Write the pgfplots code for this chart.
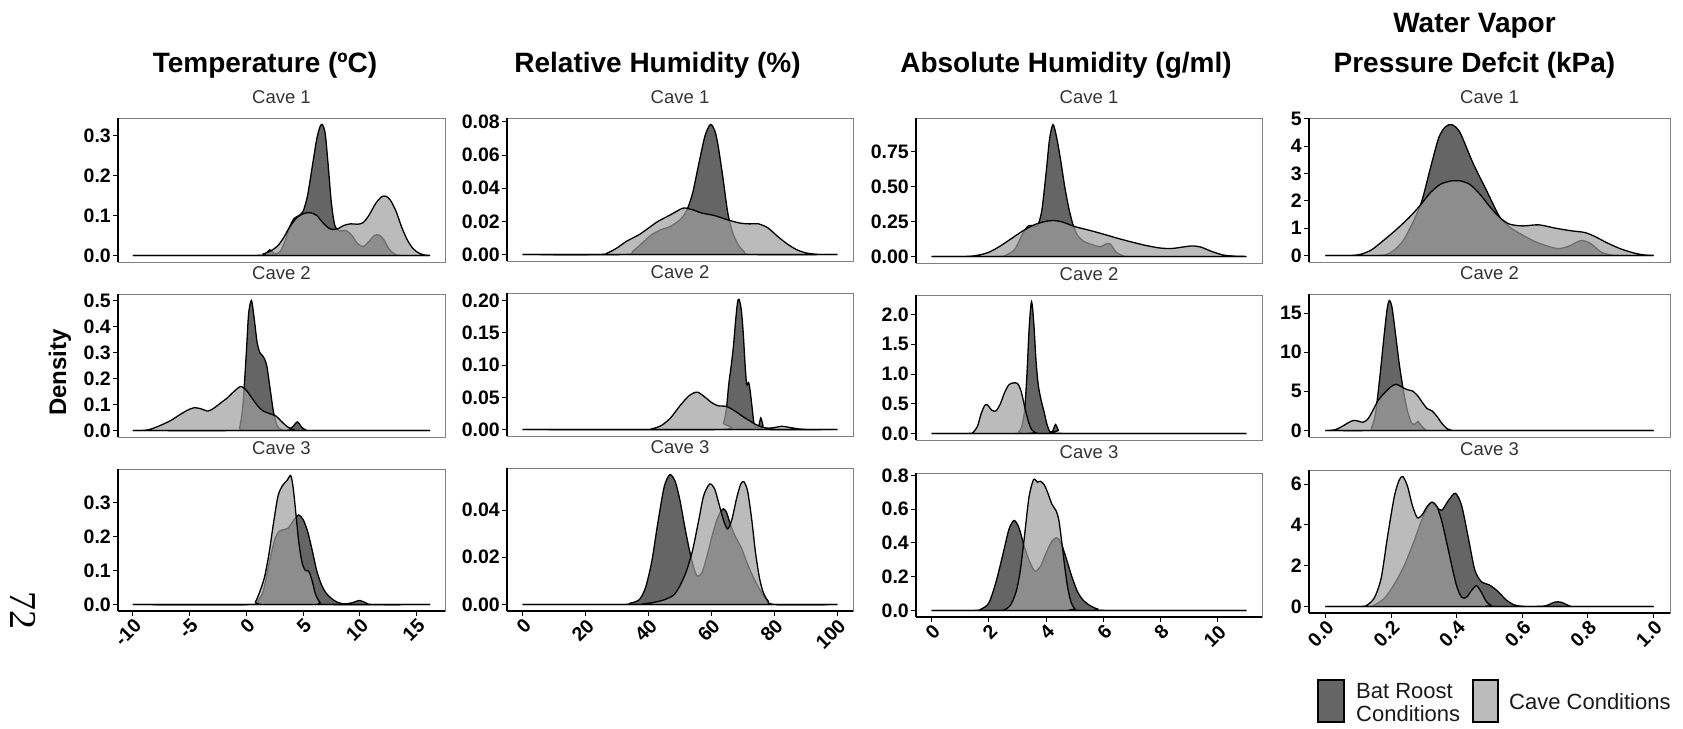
\documentclass[border=0pt]{standalone}
\usepackage{fontspec}
\setmainfont{Liberation Sans}
\usepackage{pgfplots}
\pgfplotsset{compat=1.18}

\definecolor{roostfill}{HTML}{242424}
\definecolor{cavefill}{HTML}{9E9E9E}
\newcommand\tickfont{\fontsize{19.5}{21}\selectfont\bfseries}
\newcommand\stripfont{\fontsize{18.5}{20}\selectfont}
\newcommand\titlefont{\fontsize{28}{32}\selectfont\bfseries}
\newcommand\legfont{\fontsize{22}{24}\selectfont}

\pgfplotsset{
  dens/.style={
    scale only axis,
    anchor=north west,
    scaled y ticks=false,
    scaled x ticks=false,
    axis line style={draw=black!50, line width=0.8pt},
    tick align=outside,
    major tick length=5pt,
    tick style={black, line width=1pt},
    ytick pos=left,
    xtick pos=bottom,
    yticklabel style={font=\tickfont, text=black, inner sep=1pt, xshift=-1pt},
    xticklabel style={font=\tickfont, text=black, rotate=45, anchor=north east, inner sep=1pt},
    title style={font=\stripfont, text=black!80, anchor=base, yshift=8pt},
    after end axis/.code={\draw[black, line width=1.3pt] (rel axis cs:0,0) -- (rel axis cs:0,1);},
  },
  bottomrow/.style={after end axis/.append code={\draw[black, line width=1.3pt] (rel axis cs:0,0) -- (rel axis cs:1,0);}},
  roost/.style={draw=black, line width=1.3pt, fill=roostfill, fill opacity=0.7, smooth, tension=0.45},
  cave/.style={draw=black, line width=1.3pt, fill=cavefill, fill opacity=0.7, smooth, tension=0.45},
  tcol/.style={xmin=-11.31, xmax=17.51, width=327pt},
  rcol/.style={xmin=-5, xmax=105, width=346pt},
  acol/.style={xmin=-0.55, xmax=11.55, width=346pt},
  vcol/.style={xmin=-0.05, xmax=1.05, width=361pt},
}

\begin{document}
\begin{tikzpicture}
\path[use as bounding box] (0,0) rectangle (1683pt,728pt);

%% ---------------- Temperature ----------------
\begin{axis}[dens, tcol, at={(118pt,610pt)}, height=144pt, xtick=\empty,
  ymin=-0.0164, ymax=0.3434, ytick={0,0.1,0.2,0.3}, yticklabels={0.0,0.1,0.2,0.3}, title={Cave 1}]
\addplot[roost] coordinates {(-10,0) (1.2,0) (1.7,0.004) (2.06,0.014) (2.5,0.004) (3.0,0.01) (3.4,0.035) (3.8,0.07) (4.2,0.092) (4.6,0.099) (5.0,0.11) (5.4,0.15) (5.8,0.22) (6.2,0.29) (6.5,0.322) (6.7,0.327) (6.95,0.305) (7.2,0.23) (7.5,0.13) (7.8,0.075) (8.2,0.062) (8.8,0.062) (9.3,0.05) (9.8,0.03) (10.3,0.022) (10.8,0.035) (11.3,0.05) (11.7,0.051) (12.1,0.04) (12.6,0.015) (13.1,0.003) (13.6,0) (16.2,0)} \closedcycle;
\addplot[cave] coordinates {(-10,0) (0.8,0) (1.5,0.004) (2.2,0.012) (2.8,0.025) (3.3,0.045) (3.8,0.07) (4.4,0.093) (5.0,0.104) (5.6,0.107) (6.2,0.1) (6.8,0.08) (7.4,0.066) (8.0,0.066) (8.6,0.075) (9.2,0.079) (9.8,0.078) (10.3,0.082) (10.8,0.1) (11.4,0.13) (11.9,0.146) (12.3,0.148) (12.7,0.138) (13.2,0.11) (13.7,0.07) (14.2,0.038) (14.7,0.017) (15.2,0.006) (15.7,0.001) (16.2,0)} \closedcycle;
\end{axis}

\begin{axis}[dens, tcol, at={(118pt,434pt)}, height=143pt, xtick=\empty,
  ymin=-0.0251, ymax=0.527, ytick={0,0.1,0.2,0.3,0.4,0.5}, yticklabels={0.0,0.1,0.2,0.3,0.4,0.5}, title={Cave 2}]
\addplot[roost] coordinates {(-10,0) (-1.0,0) (-0.6,0.01) (-0.3,0.1) (0.0,0.3) (0.2,0.45) (0.45,0.502) (0.7,0.43) (0.95,0.34) (1.2,0.3) (1.5,0.285) (1.8,0.25) (2.1,0.16) (2.4,0.07) (2.7,0.02) (3.0,0.005) (3.6,0.001) (4.1,0.015) (4.5,0.033) (4.9,0.012) (5.3,0.001) (5.8,0) (16.2,0)} \closedcycle;
\addplot[cave] coordinates {(-10,0) (-9.2,0) (-8.6,0.003) (-8.0,0.012) (-7.3,0.025) (-6.6,0.04) (-5.9,0.06) (-5.2,0.078) (-4.6,0.088) (-4.0,0.084) (-3.4,0.075) (-2.9,0.085) (-2.3,0.105) (-1.7,0.125) (-1.1,0.15) (-0.5,0.17) (0.0,0.155) (0.5,0.125) (1.0,0.095) (1.5,0.075) (2.0,0.066) (2.6,0.056) (3.1,0.035) (3.6,0.015) (4.1,0.004) (4.6,0) (16.2,0)} \closedcycle;
\end{axis}

\begin{axis}[dens, tcol, bottomrow, at={(118pt,259pt)}, height=142pt,
  ymin=-0.019, ymax=0.398, ytick={0,0.1,0.2,0.3}, yticklabels={0.0,0.1,0.2,0.3},
  xtick={-10,-5,0,5,10,15}, xticklabels={-10,-5,0,5,10,15}, title={Cave 3}]
\addplot[roost] coordinates {(-10,0) (0.5,0) (1.0,0.01) (1.5,0.04) (2.0,0.12) (2.5,0.19) (2.9,0.215) (3.3,0.22) (3.7,0.225) (4.1,0.244) (4.6,0.263) (5.0,0.25) (5.4,0.215) (5.8,0.16) (6.2,0.1) (6.6,0.06) (7.0,0.035) (7.5,0.018) (8.0,0.007) (8.6,0.002) (9.3,0.005) (10.0,0.012) (10.6,0.004) (11.2,0) (16.2,0)} \closedcycle;
\addplot[cave] coordinates {(-10,0) (0.3,0) (0.8,0.008) (1.2,0.039) (1.6,0.08) (2.0,0.15) (2.4,0.24) (2.8,0.32) (3.2,0.35) (3.6,0.365) (3.9,0.379) (4.1,0.35) (4.3,0.29) (4.6,0.19) (4.9,0.125) (5.2,0.1) (5.5,0.098) (5.8,0.07) (6.1,0.03) (6.5,0.006) (7,0) (16.2,0)} \closedcycle;
\end{axis}

%% ---------------- Relative humidity ----------------
\begin{axis}[dens, rcol, at={(507pt,610pt)}, height=143pt, xtick=\empty,
  ymin=-0.0039, ymax=0.0824, ytick={0,0.02,0.04,0.06,0.08}, yticklabels={0.00,0.02,0.04,0.06,0.08}, title={Cave 1}]
\addplot[roost] coordinates {(0,0) (32,0) (35,0.002) (38,0.007) (41,0.012) (44,0.015) (47,0.017) (50,0.021) (52,0.026) (54,0.037) (56,0.055) (58,0.072) (59.7,0.0785) (61,0.075) (62,0.067) (63.6,0.047) (65.2,0.025) (66.8,0.013) (68.5,0.006) (70.5,0.0015) (73,0) (100,0)} \closedcycle;
\addplot[cave] coordinates {(0,0) (24,0) (27,0.001) (30,0.004) (33,0.008) (37,0.012) (40,0.016) (43,0.02) (47,0.024) (51,0.028) (54,0.027) (57,0.025) (61,0.0235) (65,0.021) (69,0.019) (72,0.0185) (75,0.0185) (78,0.016) (81,0.011) (84,0.0065) (87,0.003) (90,0.001) (93,0.0002) (95,0) (100,0)} \closedcycle;
\end{axis}

\begin{axis}[dens, rcol, at={(507pt,435pt)}, height=143pt, xtick=\empty,
  ymin=-0.0101, ymax=0.212, ytick={0,0.05,0.1,0.15,0.2}, yticklabels={0.00,0.05,0.10,0.15,0.20}, title={Cave 2}]
\addplot[roost] coordinates {(0,0) (62.5,0) (63.8,0.01) (64.7,0.03) (65.5,0.07) (66.3,0.1) (67,0.13) (67.7,0.17) (68.3,0.198) (68.8,0.202) (69.5,0.185) (70.1,0.15) (70.7,0.1) (71.2,0.07) (71.8,0.073) (72.3,0.06) (72.9,0.035) (73.5,0.01) (74.2,0.003) (75,0.005) (75.7,0.018) (76.4,0.006) (77.2,0) (100,0)} \closedcycle;
\addplot[cave] coordinates {(0,0) (38,0) (41,0.001) (44,0.006) (47,0.018) (50,0.037) (53,0.053) (55.5,0.058) (58,0.05) (60,0.042) (62,0.037) (64.5,0.036) (66,0.033) (68,0.027) (70,0.02) (72,0.014) (74,0.008) (76,0.004) (78,0.002) (80,0.003) (82.5,0.005) (85,0.003) (88,0.0008) (91,0) (100,0)} \closedcycle;
\end{axis}

\begin{axis}[dens, rcol, bottomrow, at={(507pt,260pt)}, height=143pt,
  ymin=-0.00275, ymax=0.0578, ytick={0,0.02,0.04}, yticklabels={0.00,0.02,0.04},
  xtick={0,20,40,60,80,100}, xticklabels={0,20,40,60,80,100}, title={Cave 3}]
\addplot[roost] coordinates {(0,0) (31,0) (34,0.0005) (37,0.002) (39,0.007) (41,0.018) (43,0.035) (45,0.05) (46.8,0.055) (48.5,0.052) (50,0.044) (51.5,0.033) (53,0.023) (54.5,0.015) (55.6,0.012) (57,0.0135) (58.5,0.02) (60,0.028) (61.5,0.035) (62.8,0.039) (63.8,0.0405) (64.8,0.039) (66,0.034) (67.5,0.029) (69.5,0.024) (71.5,0.017) (73.5,0.011) (75.5,0.006) (77.5,0.002) (80,0) (100,0)} \closedcycle;
\addplot[cave] coordinates {(0,0) (35,0) (38,0.0002) (42,0.001) (45,0.002) (48,0.004) (50,0.008) (52,0.014) (54,0.023) (56,0.036) (57.5,0.046) (59.4,0.051) (61,0.049) (62.5,0.042) (64,0.035) (65.2,0.032) (66.5,0.036) (68,0.045) (69.3,0.051) (70.3,0.052) (71.5,0.048) (72.8,0.036) (74,0.022) (75.3,0.011) (76.5,0.005) (78,0.0015) (80,0) (100,0)} \closedcycle;
\end{axis}

%% ---------------- Absolute humidity ----------------
\begin{axis}[dens, acol, at={(916pt,610pt)}, height=145pt, xtick=\empty,
  ymin=-0.047, ymax=0.992, ytick={0,0.25,0.5,0.75}, yticklabels={0.00,0.25,0.50,0.75}, title={Cave 1}]
\addplot[roost] coordinates {(0,0) (2.3,0) (2.6,0.01) (2.9,0.05) (3.15,0.15) (3.35,0.215) (3.5,0.222) (3.7,0.22) (3.85,0.33) (4.0,0.6) (4.12,0.84) (4.24,0.945) (4.36,0.86) (4.5,0.7) (4.65,0.5) (4.8,0.34) (4.95,0.22) (5.1,0.15) (5.3,0.11) (5.6,0.085) (5.9,0.07) (6.1,0.09) (6.25,0.088) (6.45,0.03) (6.7,0.005) (7,0) (11,0)} \closedcycle;
\addplot[cave] coordinates {(0,0) (1.2,0) (1.6,0.008) (2.0,0.03) (2.4,0.075) (2.8,0.13) (3.2,0.185) (3.6,0.228) (4.0,0.252) (4.3,0.257) (4.6,0.245) (5.0,0.214) (5.5,0.188) (6.0,0.16) (6.5,0.13) (7.0,0.103) (7.5,0.078) (8.0,0.06) (8.4,0.057) (8.8,0.068) (9.1,0.075) (9.4,0.068) (9.8,0.035) (10.2,0.01) (10.6,0.002) (11,0)} \closedcycle;
\end{axis}

\begin{axis}[dens, acol, at={(916pt,433pt)}, height=145pt, xtick=\empty,
  ymin=-0.111, ymax=2.331, ytick={0,0.5,1,1.5,2}, yticklabels={0.0,0.5,1.0,1.5,2.0}, title={Cave 2}]
\addplot[roost] coordinates {(0,0) (2.9,0) (3.05,0.03) (3.15,0.12) (3.25,0.4) (3.33,1.0) (3.41,1.8) (3.49,2.22) (3.57,1.85) (3.65,1.2) (3.73,0.8) (3.83,0.55) (3.93,0.36) (4.03,0.15) (4.13,0.03) (4.23,0.04) (4.33,0.15) (4.43,0.05) (4.55,0) (11,0)} \closedcycle;
\addplot[cave] coordinates {(0,0) (1.3,0) (1.45,0.02) (1.6,0.12) (1.72,0.32) (1.85,0.47) (1.95,0.48) (2.1,0.39) (2.25,0.38) (2.4,0.5) (2.55,0.69) (2.7,0.82) (2.85,0.85) (3.0,0.84) (3.12,0.72) (3.25,0.45) (3.38,0.2) (3.5,0.06) (3.65,0.01) (3.8,0) (11,0)} \closedcycle;
\end{axis}

\begin{axis}[dens, acol, bottomrow, at={(916pt,255pt)}, height=144pt,
  ymin=-0.039, ymax=0.814, ytick={0,0.2,0.4,0.6,0.8}, yticklabels={0.0,0.2,0.4,0.6,0.8},
  xtick={0,2,4,6,8,10}, xticklabels={0,2,4,6,8,10}, title={Cave 3}]
\addplot[roost] coordinates {(0,0) (1.5,0) (1.75,0.01) (2.0,0.045) (2.25,0.17) (2.5,0.34) (2.7,0.48) (2.88,0.533) (3.05,0.49) (3.2,0.4) (3.35,0.32) (3.5,0.26) (3.62,0.232) (3.8,0.26) (4.0,0.34) (4.2,0.41) (4.35,0.43) (4.5,0.41) (4.7,0.31) (4.9,0.2) (5.1,0.11) (5.3,0.06) (5.55,0.027) (5.8,0.008) (6.1,0) (11,0)} \closedcycle;
\addplot[cave] coordinates {(0,0) (2.3,0) (2.55,0.005) (2.75,0.03) (2.95,0.11) (3.1,0.24) (3.25,0.45) (3.4,0.67) (3.56,0.775) (3.7,0.76) (3.8,0.765) (3.93,0.745) (4.05,0.7) (4.2,0.63) (4.35,0.59) (4.45,0.53) (4.55,0.4) (4.65,0.26) (4.75,0.14) (4.87,0.05) (5.0,0.01) (5.2,0) (11,0)} \closedcycle;
\end{axis}

%% ---------------- Vapour pressure deficit ----------------
\begin{axis}[dens, vcol, at={(1309pt,610pt)}, height=144pt, xtick=\empty,
  ymin=-0.24, ymax=5.03, ytick={0,1,2,3,4,5}, yticklabels={0,1,2,3,4,5}, title={Cave 1}]
\addplot[roost] coordinates {(0,0) (0.16,0) (0.19,0.05) (0.215,0.25) (0.24,0.6) (0.27,1.3) (0.294,2.0) (0.32,3.2) (0.345,4.3) (0.365,4.7) (0.385,4.79) (0.41,4.5) (0.45,3.37) (0.49,2.4) (0.53,1.43) (0.56,1.05) (0.6,0.75) (0.64,0.5) (0.68,0.33) (0.71,0.25) (0.74,0.33) (0.78,0.55) (0.81,0.42) (0.84,0.12) (0.87,0.02) (0.9,0) (1,0)} \closedcycle;
\addplot[cave] coordinates {(0,0) (0.08,0) (0.11,0.05) (0.14,0.2) (0.17,0.48) (0.2,0.78) (0.23,1.1) (0.26,1.45) (0.29,1.85) (0.32,2.3) (0.35,2.6) (0.38,2.72) (0.41,2.73) (0.44,2.6) (0.47,2.25) (0.5,1.8) (0.53,1.4) (0.56,1.15) (0.6,1.08) (0.65,1.12) (0.7,1.0) (0.75,0.9) (0.79,0.84) (0.82,0.7) (0.86,0.45) (0.9,0.24) (0.94,0.09) (0.97,0.02) (1.0,0)} \closedcycle;
\end{axis}

\begin{axis}[dens, vcol, at={(1309pt,434pt)}, height=143pt, xtick=\empty,
  ymin=-0.83, ymax=17.43, ytick={0,5,10,15}, yticklabels={0,5,10,15}, title={Cave 2}]
\addplot[roost] coordinates {(0,0) (0.13,0) (0.14,0.3) (0.152,2.0) (0.165,6.5) (0.178,11.8) (0.188,15.5) (0.195,16.6) (0.203,15.7) (0.213,12.5) (0.225,8.5) (0.238,5.0) (0.25,2.5) (0.262,1.0) (0.272,0.8) (0.282,1.15) (0.292,0.6) (0.305,0.1) (0.32,0) (1,0)} \closedcycle;
\addplot[cave] coordinates {(0,0) (0.01,0) (0.03,0.1) (0.05,0.5) (0.07,1.0) (0.085,1.28) (0.1,1.2) (0.115,1.05) (0.13,1.5) (0.145,2.6) (0.16,3.8) (0.18,4.8) (0.2,5.6) (0.216,5.9) (0.235,5.5) (0.25,5.2) (0.265,5.05) (0.28,4.5) (0.295,3.6) (0.31,2.8) (0.325,2.5) (0.34,1.8) (0.355,0.9) (0.37,0.25) (0.385,0.03) (0.4,0) (1,0)} \closedcycle;
\end{axis}

\begin{axis}[dens, vcol, bottomrow, at={(1309pt,258pt)}, height=143pt,
  ymin=-0.32, ymax=6.69, ytick={0,2,4,6}, yticklabels={0,2,4,6},
  xtick={0,0.2,0.4,0.6,0.8,1}, xticklabels={0.0,0.2,0.4,0.6,0.8,1.0}, title={Cave 3}]
\addplot[roost] coordinates {(0,0) (0.13,0) (0.15,0.08) (0.18,0.4) (0.21,1.1) (0.24,2.0) (0.27,3.2) (0.295,4.3) (0.32,5.05) (0.34,4.85) (0.355,4.72) (0.375,5.2) (0.396,5.55) (0.415,4.95) (0.435,3.4) (0.455,1.8) (0.475,1.22) (0.5,1.05) (0.525,0.75) (0.55,0.33) (0.575,0.08) (0.6,0.01) (0.63,0) (0.67,0.03) (0.7,0.22) (0.72,0.2) (0.745,0.02) (0.77,0) (1,0)} \closedcycle;
\addplot[cave] coordinates {(0,0) (0.11,0) (0.13,0.1) (0.15,0.45) (0.17,1.4) (0.19,3.5) (0.21,5.4) (0.225,6.2) (0.236,6.37) (0.25,5.9) (0.265,4.95) (0.28,4.35) (0.295,4.5) (0.31,4.9) (0.325,5.12) (0.34,4.9) (0.355,4.15) (0.37,3.1) (0.385,2.0) (0.4,1.0) (0.415,0.45) (0.43,0.45) (0.445,0.78) (0.46,1.02) (0.475,0.7) (0.49,0.25) (0.505,0.05) (0.52,0) (1,0)} \closedcycle;
\end{axis}

%% ---------------- Titles and labels ----------------
\node[font=\titlefont, anchor=base] at (265pt,655pt) {Temperature (ºC)};
\node[font=\titlefont, anchor=base] at (657.5pt,655pt) {Relative Humidity (\%)};
\node[font=\titlefont, anchor=base] at (1066pt,655pt) {Absolute Humidity (g/ml)};
\node[font=\titlefont, anchor=base] at (1474.5pt,695pt) {Water Vapor};
\node[font=\titlefont, anchor=base] at (1474.5pt,655pt) {Pressure Defcit (kPa)};
\node[font=\fontsize{24}{26}\selectfont\bfseries, rotate=90, anchor=base] at (66pt,355.5pt) {Density};
\node[font=\fontspec{Liberation Serif}\fontsize{38}{40}\selectfont, rotate=-90] at (23pt,117pt) {72};

%% ---------------- Legend ----------------
\draw[line width=1.3pt, fill=roostfill, fill opacity=0.7] (1318pt,6pt) rectangle (1344pt,48pt);
\draw[line width=1.3pt, fill=cavefill, fill opacity=0.7] (1473pt,6pt) rectangle (1498pt,48pt);
\node[font=\legfont, anchor=base west, inner sep=0pt, text=black!90] at (1356pt,30pt) {Bat Roost};
\node[font=\legfont, anchor=base west, inner sep=0pt, text=black!90] at (1356pt,6.5pt) {Conditions};
\node[font=\legfont, anchor=base west, inner sep=0pt, text=black!90] at (1509pt,19pt) {Cave Conditions};
\end{tikzpicture}
\end{document}
